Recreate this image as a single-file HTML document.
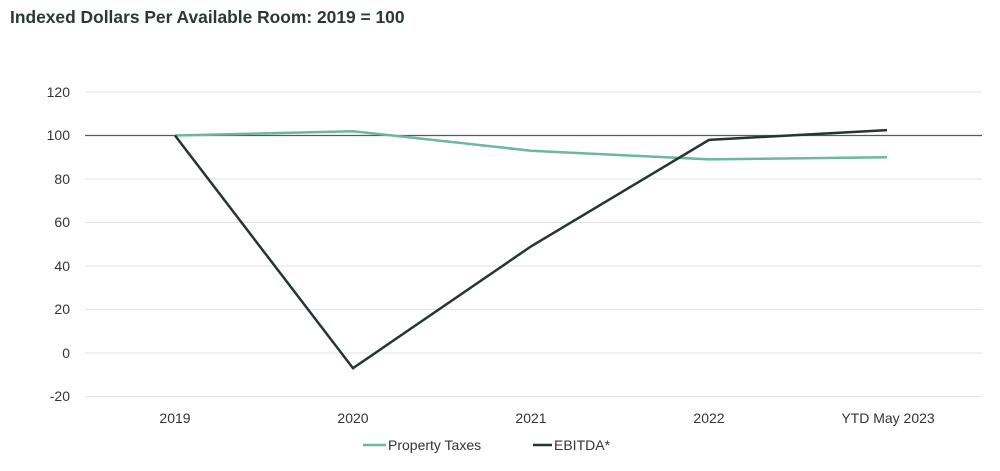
<!DOCTYPE html>
<html><head><meta charset="utf-8"><style>
html,body{margin:0;padding:0;background:#fff;}
svg{display:block;}
</style></head><body>
<svg width="1000" height="471" xmlns="http://www.w3.org/2000/svg" font-family="Liberation Sans, sans-serif">
<text x="10" y="23" font-size="17.4" font-weight="bold" fill="#2b3838">Indexed Dollars Per Available Room:  2019 = 100</text>
<g stroke="#e3e3e3" stroke-width="1">
<line x1="85" x2="982" y1="92" y2="92"/>
<line x1="85" x2="982" y1="179" y2="179"/>
<line x1="85" x2="982" y1="222.5" y2="222.5"/>
<line x1="85" x2="982" y1="266" y2="266"/>
<line x1="85" x2="982" y1="309.5" y2="309.5"/>
<line x1="85" x2="982" y1="353" y2="353"/>
<line x1="85" x2="982" y1="396.5" y2="396.5"/>
</g>
<line x1="85" x2="982" y1="135.5" y2="135.5" stroke="#555b5b" stroke-width="1.3"/>
<g font-size="14" fill="#333" text-anchor="end">
<text x="70" y="97">120</text>
<text x="70" y="140">100</text>
<text x="70" y="184">80</text>
<text x="70" y="227">60</text>
<text x="70" y="271">40</text>
<text x="70" y="314">20</text>
<text x="70" y="358">0</text>
<text x="70" y="401">-20</text>
</g>
<g font-size="14" fill="#333" text-anchor="middle">
<text x="175" y="423">2019</text>
<text x="353" y="423">2020</text>
<text x="531" y="423">2021</text>
<text x="709" y="423">2022</text>
<text x="888" y="423">YTD May 2023</text>
</g>
<polyline points="175,135.5 353,131.2 531,150.7 709,159.4 887,157.3" fill="none" stroke="#6fb6a0" stroke-width="2.5"/>
<polyline points="175,135.5 353,368.2 531,246.4 709,139.9 887,130.1" fill="none" stroke="#253535" stroke-width="2.5"/>
<line x1="363" x2="386" y1="445" y2="445" stroke="#6fb6a0" stroke-width="2.5"/>
<text x="388" y="450" font-size="14" fill="#333">Property Taxes</text>
<line x1="533" x2="552" y1="445" y2="445" stroke="#253535" stroke-width="2.5"/>
<text x="554" y="450" font-size="14" fill="#333">EBITDA*</text>
</svg>
</body></html>
